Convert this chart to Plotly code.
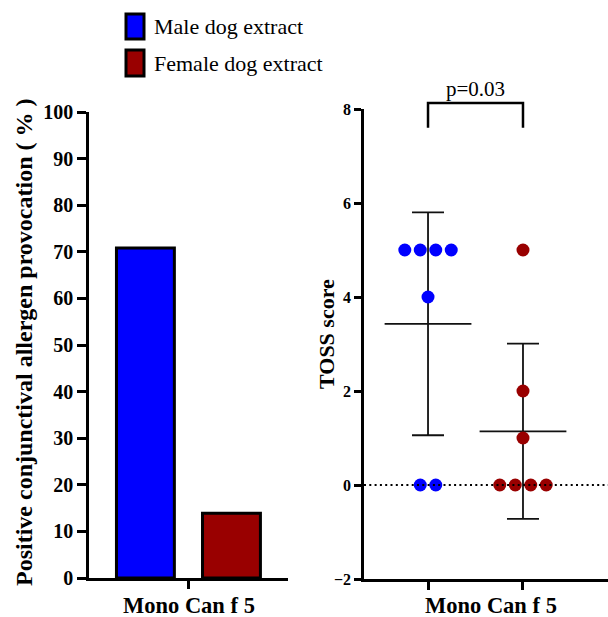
import numpy as np
import plotly.graph_objects as go

# ---------------- data ----------------
groups = ["Male dog extract", "Female dog extract"]
colors = ["#0000FF", "#990000"]
category = "Mono Can f 5"
positive_pct = [70.8, 13.9]                      # left panel bars (%)
toss_male = [5, 5, 5, 5, 4, 0, 0]                # right panel dots
toss_female = [5, 2, 1, 0, 0, 0, 0]
p_text = "p=0.03"
bracket_y = [7.6, 8.13]                          # leg bottom, bracket top
left_yticks = list(range(0, 101, 10))
right_yticks = [-2, 0, 2, 4, 6, 8]

W, H = 608, 617
def px(xp):  # pixel -> paper x
    return xp / W
def py(yp):  # pixel -> paper y
    return 1 - yp / H

FONT = "Liberation Serif"
fig = go.Figure()

# ---------------- left: bars ----------------
bar_width = 0.291
offsets = [-0.362, 0.0704]
for g, v, c, off in zip(groups, positive_pct, colors, offsets):
    fig.add_trace(go.Bar(x=[category], y=[v], name=g, width=bar_width, offset=off,
                         marker=dict(color=c, line=dict(color="black", width=3)),
                         xaxis="x", yaxis="y", showlegend=False))

# ---------------- right: dots with mean +/- SD ----------------
spacing = 0.163
def swarm(vals, center):
    xs = []
    vals = list(vals)
    for i, v in enumerate(vals):
        same = [j for j, w in enumerate(vals) if w == v]
        k = same.index(i)
        n = len(same)
        xs.append(center + (k - (n - 1) / 2) * spacing)
    return xs

for idx, vals in enumerate([toss_male, toss_female]):
    m = float(np.mean(vals))
    sd = float(np.std(vals, ddof=1))
    fig.add_trace(go.Scatter(x=[idx], y=[m], mode="markers",
                             marker=dict(symbol="line-ew", size=62, color="black",
                                         line=dict(color="#111", width=1.8)),
                             error_y=dict(type="data", array=[sd], visible=True,
                                          color="#111", thickness=1.8, width=16),
                             xaxis="x2", yaxis="y2", showlegend=False, cliponaxis=False))
for idx, (vals, c) in enumerate(zip([toss_male, toss_female], colors)):
    fig.add_trace(go.Scatter(x=swarm(vals, idx), y=vals, mode="markers",
                             marker=dict(size=13, color=c, line=dict(width=0)),
                             xaxis="x2", yaxis="y2", showlegend=False, cliponaxis=False))

# zero reference dotted line
fig.add_shape(type="line", xref="x2 domain", yref="y2", x0=0, x1=1, y0=0, y1=0,
              line=dict(color="black", width=2, dash="2px,3.3px"))

# significance bracket on an invisible axis with the same scale as y2, extended upward
y2_bot_px, y2_top_px, y3_top_px = 579, 109, 75
unit_px = (y2_bot_px - y2_top_px) / (right_yticks[-1] - right_yticks[0])
y3_top = right_yticks[0] + (y2_bot_px - y3_top_px) / unit_px
fig.add_trace(go.Scatter(x=[0, 0, 1, 1], y=[bracket_y[0], bracket_y[1], bracket_y[1], bracket_y[0]],
                         mode="lines", line=dict(color="black", width=2.5),
                         xaxis="x2", yaxis="y3", showlegend=False, hoverinfo="skip"))
fig.add_annotation(x=0.5, y=8.43, xref="x2", yref="y3", text=p_text, showarrow=False,
                   xanchor="center", yanchor="middle",
                   font=dict(family=FONT, size=21, color="black"))

# ---------------- legend (manual) ----------------
legend_rows = [(14, 39), (50, 76)]
for (y0, y1), g, c in zip(legend_rows, groups, colors):
    fig.add_shape(type="rect", xref="paper", yref="paper", x0=px(126), x1=px(144),
                  y0=py(y1), y1=py(y0), fillcolor=c, line=dict(color="black", width=3))
    fig.add_annotation(x=px(152), y=py((y0 + y1) / 2), xref="paper", yref="paper",
                       text=g, showarrow=False, xanchor="left", yanchor="middle",
                       font=dict(family=FONT, size=22, color="black"))

# ---------------- axis titles ----------------
title_font = dict(family=FONT, color="black", weight="bold")
fig.add_annotation(x=px(24), y=py(342), xref="paper", yref="paper", textangle=-90,
                   text="Positive conjunctival allergen provocation ( % )", showarrow=False,
                   xanchor="center", yanchor="middle", font=dict(size=24, **title_font))
fig.add_annotation(x=px(326), y=py(334), xref="paper", yref="paper", textangle=-90,
                   text="TOSS score", showarrow=False,
                   xanchor="center", yanchor="middle", font=dict(size=22, **title_font))
fig.add_annotation(x=px(188.5), y=py(605), xref="paper", yref="paper", text=category,
                   showarrow=False, xanchor="center", yanchor="middle",
                   font=dict(size=22.5, **title_font))
fig.add_annotation(x=px(491), y=py(605), xref="paper", yref="paper", text=category,
                   showarrow=False, xanchor="center", yanchor="middle",
                   font=dict(size=22.5, **title_font))

axis_common = dict(showline=True, linecolor="black", linewidth=2.5, ticks="outside",
                   tickcolor="black", tickwidth=2.5, showgrid=False, zeroline=False,
                   automargin=False)

fig.update_layout(
    width=W, height=H, margin=dict(l=0, r=0, t=0, b=0, pad=0, autoexpand=False),
    plot_bgcolor="rgba(0,0,0,0)", paper_bgcolor="white", showlegend=False,
    barmode="overlay",
    xaxis=dict(domain=[px(89), px(288)], type="category", range=[-0.5, 0.5],
               tickvals=[category], ticktext=[""], ticklen=8, anchor="y", **axis_common),
    yaxis=dict(domain=[py(578), py(112)], range=[0, 100], tickvals=left_yticks, ticklen=9,
               tickfont=dict(family=FONT, size=20, color="black", weight="bold"),
               anchor="x", **axis_common),
    xaxis2=dict(domain=[px(364), 1.0], range=[-0.674, 1.895], tickvals=[0, 1],
                ticktext=["", ""], ticklen=8, anchor="y2", **axis_common),
    yaxis2=dict(domain=[py(y2_bot_px), py(y2_top_px)], range=[right_yticks[0], right_yticks[-1]],
                tickvals=right_yticks, ticklen=7,
                tickfont=dict(family=FONT, size=16, color="black", weight="bold"),
                anchor="x2", **axis_common),
    yaxis3=dict(domain=[py(y2_bot_px), py(y3_top_px)], range=[right_yticks[0], y3_top],
                visible=False, anchor="x2", automargin=False),
)

fig.write_html("out.html", config={"displayModeBar": False},
               post_script="document.body.style.margin='0px';")
